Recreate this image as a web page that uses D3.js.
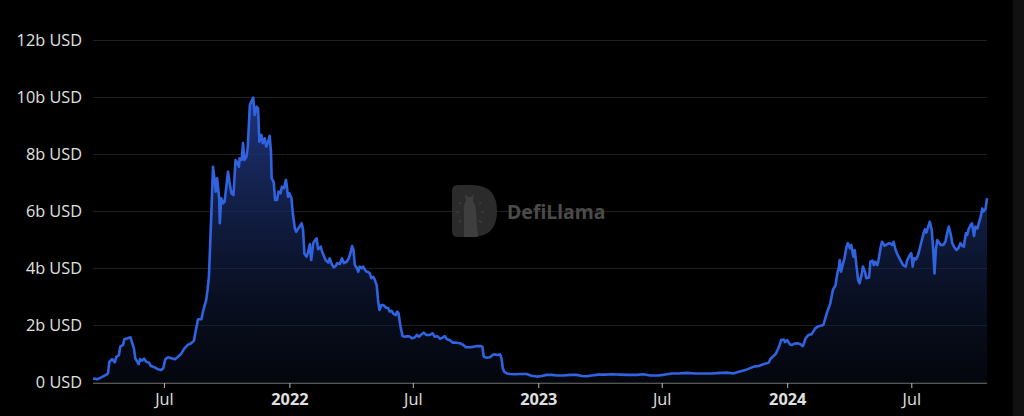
<!DOCTYPE html>
<html>
<head>
<meta charset="utf-8">
<script src="https://cdn.jsdelivr.net/npm/d3@7"></script>
<style>
  html, body { margin: 0; padding: 0; background: #000; }
  svg { display: block; }
</style>
</head>
<body>
<svg id="chart" width="1024" height="416"></svg>
<script>
// ---- Data (TVL in billions of USD) ----
const dates = [
"2021-03-19","2021-03-26","2021-03-31","2021-04-07","2021-04-10","2021-04-12","2021-04-16","2021-04-20","2021-04-22","2021-04-26",
"2021-04-28","2021-05-02","2021-05-04","2021-05-08","2021-05-13","2021-05-15","2021-05-18","2021-05-20","2021-05-23","2021-05-25",
"2021-05-27","2021-05-30","2021-06-02","2021-06-05","2021-06-09","2021-06-12","2021-06-17","2021-06-22","2021-06-27","2021-06-30",
"2021-07-03","2021-07-07","2021-07-12","2021-07-17","2021-07-21","2021-07-26","2021-07-31","2021-08-05","2021-08-10","2021-08-14",
"2021-08-16","2021-08-20","2021-08-25","2021-08-27","2021-09-01","2021-09-03","2021-09-05","2021-09-07","2021-09-09","2021-09-11",
"2021-09-13","2021-09-15","2021-09-17","2021-09-20","2021-09-21","2021-09-23","2021-09-26","2021-09-28","2021-10-03","2021-10-05",
"2021-10-08","2021-10-11","2021-10-14","2021-10-16","2021-10-19","2021-10-20","2021-10-23","2021-10-25","2021-10-27","2021-10-30",
"2021-11-01","2021-11-04","2021-11-06","2021-11-09","2021-11-11","2021-11-14","2021-11-16","2021-11-18","2021-11-21","2021-11-23",
"2021-11-26","2021-11-28","2021-12-01","2021-12-03","2021-12-05","2021-12-06","2021-12-09","2021-12-11","2021-12-14","2021-12-16",
"2021-12-19","2021-12-21","2021-12-24","2021-12-27","2021-12-28","2021-12-30","2022-01-01","2022-01-04","2022-01-06","2022-01-09",
"2022-01-11","2022-01-14","2022-01-16","2022-01-19","2022-01-21","2022-01-23","2022-01-26","2022-01-28","2022-01-31","2022-02-02",
"2022-02-05","2022-02-07","2022-02-10","2022-02-12","2022-02-16","2022-02-18","2022-02-20","2022-02-23","2022-02-27","2022-03-01",
"2022-03-04","2022-03-07","2022-03-10","2022-03-12","2022-03-16","2022-03-19","2022-03-22","2022-03-26","2022-03-29","2022-04-01",
"2022-04-03","2022-04-05","2022-04-07","2022-04-10","2022-04-12","2022-04-14","2022-04-17","2022-04-19","2022-04-22","2022-04-24",
"2022-04-26","2022-04-29","2022-05-01","2022-05-04","2022-05-06","2022-05-09","2022-05-11","2022-05-13","2022-05-16","2022-05-19",
"2022-05-22","2022-05-26","2022-05-28","2022-05-31","2022-06-02","2022-06-06","2022-06-08","2022-06-10","2022-06-13","2022-06-16",
"2022-06-19","2022-06-23","2022-06-27","2022-06-30","2022-07-04","2022-07-07","2022-07-10","2022-07-14","2022-07-17","2022-07-21",
"2022-07-26","2022-07-30","2022-08-02","2022-08-06","2022-08-10","2022-08-13","2022-08-17","2022-08-20","2022-08-24","2022-08-29",
"2022-09-03","2022-09-08","2022-09-13","2022-09-17","2022-09-23","2022-09-28","2022-10-03","2022-10-08","2022-10-11","2022-10-13",
"2022-10-17","2022-10-22","2022-10-26","2022-10-29","2022-11-02","2022-11-06","2022-11-08","2022-11-10","2022-11-12","2022-11-16",
"2022-11-20","2022-11-28","2022-12-05","2022-12-15","2022-12-22","2022-12-30","2023-01-06","2023-01-13","2023-01-21","2023-01-28",
"2023-02-07","2023-02-17","2023-02-26","2023-03-06","2023-03-13","2023-03-20","2023-03-30","2023-04-09","2023-04-19","2023-05-01",
"2023-05-13","2023-05-26","2023-06-04","2023-06-14","2023-06-26","2023-07-06","2023-07-16","2023-07-26","2023-08-07","2023-08-19",
"2023-08-31","2023-09-13","2023-09-25","2023-10-05","2023-10-14","2023-10-22","2023-10-29","2023-11-05","2023-11-13","2023-11-20",
"2023-11-27","2023-12-05","2023-12-07","2023-12-11","2023-12-15","2023-12-18","2023-12-21","2023-12-23","2023-12-27","2023-12-29",
"2024-01-01","2024-01-05","2024-01-08","2024-01-11","2024-01-15","2024-01-20","2024-01-24","2024-01-28","2024-02-01","2024-02-06",
"2024-02-11","2024-02-16","2024-02-23","2024-02-28","2024-03-04","2024-03-08","2024-03-12","2024-03-14","2024-03-17","2024-03-18",
"2024-03-20","2024-03-23","2024-03-25","2024-03-28","2024-03-30","2024-04-02","2024-04-04","2024-04-07","2024-04-09","2024-04-12",
"2024-04-14","2024-04-16","2024-04-19","2024-04-21","2024-04-24","2024-04-26","2024-04-30","2024-05-02","2024-05-05","2024-05-07",
"2024-05-09","2024-05-12","2024-05-14","2024-05-17","2024-05-19","2024-05-23","2024-05-27","2024-05-30","2024-06-03","2024-06-05",
"2024-06-08","2024-06-11","2024-06-15","2024-06-19","2024-06-23","2024-06-25","2024-06-29","2024-07-01","2024-07-03","2024-07-05",
"2024-07-08","2024-07-11","2024-07-15","2024-07-19","2024-07-21","2024-07-23","2024-07-26","2024-07-28","2024-07-31","2024-08-02",
"2024-08-04","2024-08-06","2024-08-08","2024-08-10","2024-08-13","2024-08-17","2024-08-20","2024-08-23","2024-08-25","2024-08-28",
"2024-08-30","2024-09-02","2024-09-05","2024-09-08","2024-09-11","2024-09-14","2024-09-16","2024-09-19","2024-09-21","2024-09-23",
"2024-09-26","2024-09-28","2024-10-01","2024-10-03","2024-10-06","2024-10-08","2024-10-11","2024-10-13","2024-10-15","2024-10-18",
"2024-10-20"
];
const tvlBillions = [
0.12,0.10,0.16,0.25,0.30,0.71,0.80,0.69,0.87,0.95,
1.24,1.30,1.50,1.53,1.57,1.41,1.18,0.83,0.71,0.63,
0.80,0.75,0.82,0.71,0.68,0.56,0.52,0.45,0.42,0.48,
0.80,0.87,0.83,0.80,0.87,0.98,1.18,1.30,1.36,1.45,
1.71,2.20,2.20,2.44,2.88,3.23,3.70,4.92,6.21,7.55,
7.15,6.68,7.15,6.45,5.57,6.45,6.27,6.33,7.38,7.03,
6.62,6.56,7.79,7.73,7.55,7.85,7.79,8.38,7.79,7.90,
8.26,9.72,9.83,9.98,9.37,9.66,9.60,8.43,8.67,8.38,
8.55,8.26,8.43,8.64,8.08,7.15,7.01,6.39,6.39,6.68,
6.62,6.85,6.80,7.09,6.91,6.50,6.62,6.45,5.92,5.39,
5.27,5.39,5.45,5.57,5.35,4.50,4.40,4.52,4.84,4.28,
4.87,4.95,5.04,4.66,4.75,4.57,4.46,4.28,4.19,4.34,
4.14,4.02,4.07,4.17,4.14,4.34,4.17,4.22,4.34,4.57,
4.77,4.63,4.10,3.99,3.87,4.05,3.99,4.05,3.93,3.87,
3.87,3.81,3.64,3.69,3.60,3.40,2.88,2.53,2.70,2.70,
2.62,2.59,2.47,2.50,2.41,2.35,2.47,2.41,1.94,1.61,
1.59,1.61,1.59,1.53,1.57,1.65,1.59,1.68,1.73,1.65,
1.65,1.71,1.59,1.61,1.52,1.55,1.61,1.50,1.47,1.38,
1.38,1.36,1.30,1.22,1.22,1.24,1.26,1.26,1.24,0.89,
0.85,0.87,0.95,0.97,0.95,0.97,0.83,0.48,0.36,0.30,
0.28,0.27,0.28,0.28,0.22,0.19,0.21,0.25,0.25,0.23,
0.23,0.25,0.25,0.21,0.20,0.23,0.26,0.26,0.27,0.26,
0.25,0.25,0.27,0.23,0.23,0.26,0.30,0.30,0.32,0.30,
0.30,0.30,0.32,0.33,0.30,0.36,0.40,0.46,0.54,0.56,
0.62,0.68,0.80,0.89,0.98,1.13,1.30,1.47,1.49,1.40,
1.47,1.32,1.30,1.34,1.36,1.33,1.26,1.53,1.65,1.68,
1.88,1.96,2.00,2.41,2.74,3.23,3.40,3.75,4.05,4.28,
3.87,4.17,4.34,4.75,4.87,4.69,4.81,4.40,4.63,3.99,
3.58,3.46,3.75,4.05,3.87,3.64,3.67,4.22,4.26,4.10,
4.22,4.10,4.28,4.72,4.92,4.78,4.84,4.87,4.81,4.92,
4.63,4.46,4.28,4.10,4.05,4.28,4.46,4.52,4.05,4.34,
4.30,4.46,4.84,5.22,5.36,5.24,5.47,5.62,5.33,4.69,
3.81,4.63,4.98,4.92,4.81,4.81,4.92,5.27,5.45,5.16,
4.87,4.73,4.63,4.69,4.87,4.77,4.75,5.22,5.16,5.36,
5.51,5.57,5.12,5.45,5.39,5.57,5.82,6.09,5.98,6.09,
6.45
];
const yTicks = [0, 2, 4, 6, 8, 10, 12];
const xTickDates = ["2021-07-01","2022-01-01","2022-07-01","2023-01-01","2023-07-01","2024-01-01","2024-07-01"];
const xTickLabels = ["Jul","2022","Jul","2023","Jul","2024","Jul"];
const xTickBold = [false, true, false, true, false, true, false];

// ---- Build ----
const parse = d3.timeParse("%Y-%m-%d");
const data = dates.map((d, i) => ({ date: parse(d), v: tvlBillions[i] }));

const svg = d3.select("#chart");
const W = 1024, H = 416;
const plot = { left: 93, right: 987, top: 40, bottom: 382 };

svg.append("rect").attr("width", W).attr("height", H).attr("fill", "#000");
// right scrollbar-like strip
svg.append("rect").attr("x", 1013).attr("y", 0).attr("width", 11).attr("height", H).attr("fill", "#111");

const x = d3.scaleTime()
  .domain(d3.extent(data, d => d.date))
  .range([plot.left, plot.right]);
const y = d3.scaleLinear().domain([0, 12]).range([plot.bottom, plot.top]);

const font = "'Open Sans', 'Noto Sans', sans-serif";
const labelSize = 16.3;

// grid lines + y labels
const gy = svg.append("g");
yTicks.forEach(t => {
  gy.append("line")
    .attr("x1", plot.left).attr("x2", plot.right)
    .attr("y1", Math.round(y(t)) + 0.5).attr("y2", Math.round(y(t)) + 0.5)
    .attr("stroke", "#1f1f1f").attr("stroke-width", 1);
  gy.append("text")
    .attr("x", 82).attr("y", y(t))
    .attr("dy", "0.35em")
    .attr("text-anchor", "end")
    .attr("font-family", font).attr("font-size", labelSize)
    .attr("fill", "#e0e0e0")
    .text(t === 0 ? "0 USD" : t + "b USD");
});

// watermark
const wm = svg.append("g");
wm.append("path")
  .attr("d", "M452,191 Q452,185 458,185 L472,185 Q497,185 497,211 Q497,237 472,237 L458,237 Q452,237 452,231 Z")
  .attr("fill", "#2b2b2b");
wm.append("path")
  .attr("d", "M464,237 L464,212 Q463,205 466,201 L465,194 L468,197 L471,197 L474,194 L473,201 Q476,205 476,212 L478,237 Z")
  .attr("fill", "#3e3e3e");
[[-9,-6],[-11,2],[-9,10],[9,-6],[11,2],[9,10]].forEach(([dx,dy]) => {
  wm.append("line")
    .attr("x1", 470+dx).attr("y1", 210+dy)
    .attr("x2", 470+dx*1.25).attr("y2", 210+dy*1.25)
    .attr("stroke", "#3e3e3e").attr("stroke-width", 1.5);
});
wm.append("text")
  .attr("x", 507).attr("y", 219)
  .attr("font-family", "'Noto Sans', 'Open Sans', sans-serif")
  .attr("font-weight", 700)
  .attr("font-size", 19.5)
  .attr("fill", "#4a4a4a")
  .text("DefiLlama");

// gradient
const defs = svg.append("defs");
const grad = defs.append("linearGradient")
  .attr("id", "areaGrad")
  .attr("gradientUnits", "userSpaceOnUse")
  .attr("x1", 0).attr("x2", 0)
  .attr("y1", y(10)).attr("y2", y(0));
grad.append("stop").attr("offset", "0%").attr("stop-color", "#223b8a").attr("stop-opacity", 0.9);
grad.append("stop").attr("offset", "100%").attr("stop-color", "#0a1020").attr("stop-opacity", 0.4);

const area = d3.area()
  .x(d => x(d.date)).y0(y(0)).y1(d => y(d.v))
  .curve(d3.curveLinear);
const line = d3.line()
  .x(d => x(d.date)).y(d => y(d.v))
  .curve(d3.curveLinear);

svg.append("path").datum(data).attr("d", area).attr("fill", "url(#areaGrad)");
svg.append("path").datum(data).attr("d", line)
  .attr("fill", "none").attr("stroke", "#3063e0")
  .attr("stroke-width", 2.6).attr("stroke-linejoin", "round");

// x axis
const axis = d3.axisBottom(x)
  .tickValues(xTickDates.map(parse))
  .tickSize(5)
  .tickFormat((d, i) => xTickLabels[i]);
const gx = svg.append("g")
  .attr("transform", `translate(0,${plot.bottom + 1})`)
  .call(axis);
gx.select(".domain").attr("stroke", "#555").attr("d", `M${plot.left},0.5H${plot.right}`);
gx.selectAll(".tick line").attr("stroke", "#bbb");
gx.selectAll(".tick text")
  .attr("font-family", font)
  .attr("font-size", labelSize)
  .attr("fill", "#e0e0e0")
  .attr("dy", "0.85em")
  .attr("font-weight", (d, i) => xTickBold[i] ? 700 : 400);
</script>
</body>
</html>
